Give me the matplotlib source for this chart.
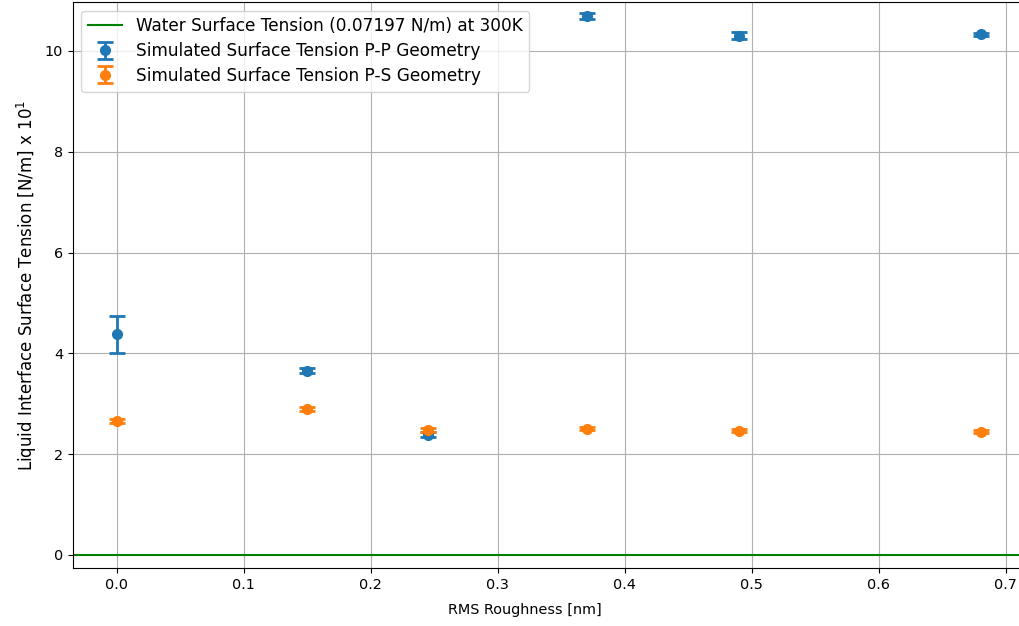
import matplotlib
matplotlib.use("Agg")
import matplotlib.pyplot as plt

# RMS roughness values [nm]
roughness = [0.0, 0.15, 0.245, 0.37, 0.49, 0.68]

# P-P geometry surface tension and error
pp_tension = [4.38, 3.65, 2.38, 10.69, 10.30, 10.33]
pp_err = [0.37, 0.05, 0.05, 0.06, 0.07, 0.03]

# P-S geometry surface tension and error
ps_tension = [2.66, 2.89, 2.48, 2.50, 2.46, 2.44]
ps_err = [0.04, 0.04, 0.04, 0.03, 0.03, 0.03]

water_tension = 0.07197


def main():
    plt.rcParams['font.size'] = 10.4

    fig = plt.figure(figsize=(10.19, 6.26), dpi=100)
    ax = fig.add_axes([0.0716, 0.0927, 0.933, 0.904])

    # reference line sits essentially on zero in the scaled units
    ax.axhline(water_tension / 10, color='green',
               label='Water Surface Tension (0.07197 N/m) at 300K')
    ax.errorbar(roughness, pp_tension, yerr=pp_err, fmt='o', color='#1f77b4',
                markersize=7, elinewidth=2, capsize=6, capthick=2,
                label='Simulated Surface Tension P-P Geometry')
    ax.errorbar(roughness, ps_tension, yerr=ps_err, fmt='o', color='#ff7f0e',
                markersize=7, elinewidth=2, capsize=6, capthick=2,
                label='Simulated Surface Tension P-S Geometry')

    ax.set_xlim(-0.0346, 0.714)
    ax.set_ylim(-0.26, 10.97)
    ax.set_xlabel('RMS Roughness [nm]')
    ax.xaxis.set_label_coords(0.475, -0.062)
    ax.set_ylabel(r'Liquid Interface Surface Tension [N/m] x 10$^1$', fontsize=12)
    ax.grid(True)
    ax.legend(loc='upper left', fontsize=12.2, labelspacing=0.4)

    fig.savefig('out.png', dpi=100)


if __name__ == "__main__":
    main()
